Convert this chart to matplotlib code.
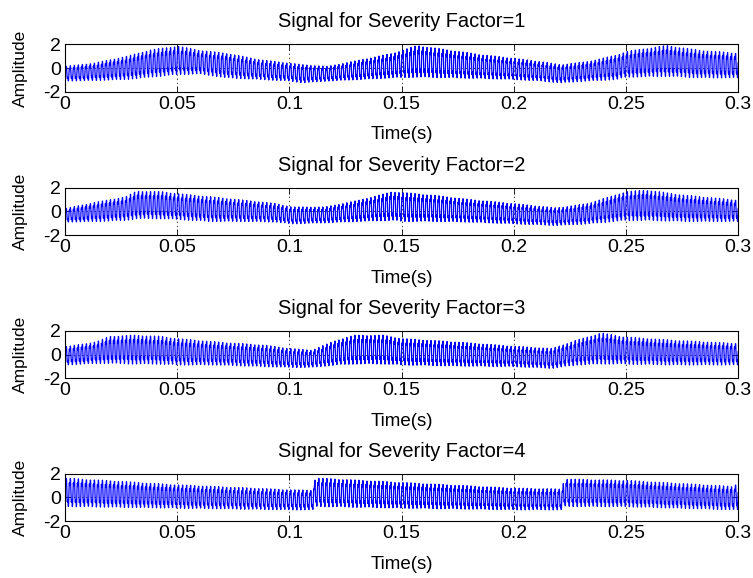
import numpy as np
import matplotlib
matplotlib.use("Agg")
import matplotlib.pyplot as plt

plt.rcParams["font.family"] = ["Liberation Sans", "DejaVu Sans"]
plt.rcParams["font.size"] = 13
plt.rcParams["axes.unicode_minus"] = False

# ── Signal description ─────────────────────────────────────────────────────────
FS = 10000          # sampling rate (Hz)
T_END = 0.3         # record length (s)
F_MESH = 560.0      # dominant carrier (Hz)
F_SIDE = 1680.0     # weaker high-frequency component (Hz)
SIDE_GAIN = 0.4

severity = [1, 2, 3, 4]

# upper / lower envelope of each record, sampled at the listed times
env_t_1 = [0.0, 0.013, 0.027, 0.038, 0.05, 0.06, 0.072, 0.087, 0.1, 0.106, 0.117,
           0.132, 0.146, 0.157, 0.172, 0.187, 0.2, 0.212, 0.221, 0.233, 0.246,
           0.25, 0.268, 0.283, 0.3]
env_hi_1 = [0.14, 0.42, 0.97, 1.53, 1.85, 1.5, 1.25, 0.7, 0.42, 0.28, 0.14,
            0.7, 1.25, 1.9, 1.5, 1.1, 0.83, 0.55, 0.28, 0.55, 1.1,
            1.4, 1.9, 1.5, 1.25]
env_lo_1 = [-1.1, -1.05, -0.97, -0.78, -0.55, -0.5, -0.83, -0.97, -1.1, -1.25, -1.1,
            -0.97, -0.83, -0.78, -0.83, -0.9, -0.97, -1.1, -1.25, -1.1, -0.97,
            -0.78, -0.7, -0.83, -0.83]

env_t_2 = [0.0, 0.013, 0.027, 0.032, 0.043, 0.05, 0.065, 0.08, 0.094, 0.101, 0.116,
           0.131, 0.146, 0.15, 0.164, 0.179, 0.2, 0.219, 0.233, 0.25, 0.259,
           0.276, 0.3]
env_hi_2 = [0.23, 0.74, 1.23, 1.71, 1.66, 1.5, 1.23, 0.94, 0.66, 0.37, 0.37,
            0.94, 1.66, 1.6, 1.37, 1.03, 0.66, 0.29, 0.66, 1.66, 1.8,
            1.37, 0.94]
env_lo_2 = [-0.91, -0.86, -0.77, -0.63, -0.63, -0.69, -0.86, -0.86, -0.91, -1.06, -0.97,
            -0.86, -0.77, -0.86, -0.86, -0.91, -1.06, -1.2, -1.06, -0.77, -0.77,
            -0.86, -0.86]

env_t_3 = [0.0, 0.014, 0.02, 0.031, 0.042, 0.05, 0.067, 0.089, 0.1, 0.11, 0.121,
           0.129, 0.142, 0.15, 0.174, 0.2, 0.217, 0.228, 0.239, 0.249, 0.271, 0.3]
env_hi_3 = [0.66, 1.08, 1.55, 1.64, 1.55, 1.36, 1.08, 0.8, 0.52, 0.38, 1.22,
            1.64, 1.64, 1.36, 1.08, 0.71, 0.52, 1.22, 1.83, 1.5, 1.22, 0.94]
env_lo_3 = [-0.88, -0.74, -0.74, -0.8, -0.8, -0.88, -0.88, -1.02, -1.08, -1.08, -0.88,
            -0.8, -0.8, -0.88, -0.97, -1.02, -1.16, -0.88, -0.8, -0.8, -0.88, -0.88]

env_t_4 = [0.0, 0.05, 0.1, 0.1105, 0.1115, 0.15, 0.2, 0.2215, 0.2225, 0.25, 0.298, 0.3]
env_hi_4 = [1.63, 1.06, 0.64, 0.6, 1.64, 1.26, 0.78, 0.7, 1.55, 1.43, 0.92, 1.3]
env_lo_4 = [-0.78, -0.92, -1.06, -1.06, -0.78, -0.92, -1.06, -1.06, -0.78, -0.8, -1.06, -1.06]

envelopes = [
    (env_t_1, env_hi_1, env_lo_1),
    (env_t_2, env_hi_2, env_lo_2),
    (env_t_3, env_hi_3, env_lo_3),
    (env_t_4, env_hi_4, env_lo_4),
]

x_ticks = [0, 0.05, 0.1, 0.15, 0.2, 0.25, 0.3]
x_tick_labels = ["0", "0.05", "0.1", "0.15", "0.2", "0.25", "0.3"]
y_ticks = [-2, 0, 2]


def build_signal(t, env_t, env_hi, env_lo):
    hi = np.interp(t, env_t, env_hi)
    lo = np.interp(t, env_t, env_lo)
    mid = 0.5 * (hi + lo)
    half = 0.5 * (hi - lo)
    carrier = (np.sin(2 * np.pi * F_MESH * t)
               + SIDE_GAIN * np.sin(2 * np.pi * F_SIDE * t + 0.7))
    carrier /= np.max(np.abs(carrier))
    return mid + half * carrier


t = np.arange(0, T_END + 1 / FS, 1 / FS)

fig = plt.figure(figsize=(7.53, 5.78), dpi=100)
left, width, height = 0.0863, 0.894, 0.082
bottoms = [0.8413, 0.5934, 0.3455, 0.0986]

for sf, (et, ehi, elo), b in zip(severity, envelopes, bottoms):
    ax = fig.add_axes([left, b, width, height])
    y = build_signal(t, et, ehi, elo)
    ax.plot(t, y, color="#0000ff", lw=0.9)
    ax.set_xlim(0, 0.3)
    ax.set_ylim(-2, 2)
    ax.set_xticks(x_ticks)
    ax.set_xticklabels(x_tick_labels)
    ax.set_yticks(y_ticks)
    ax.grid(True, color="k", linestyle=(0, (2, 4)), lw=0.5)
    ax.tick_params(direction="in", length=4, width=0.6, top=True, right=True,
                   pad=3, labelsize=14)
    for s in ax.spines.values():
        s.set_linewidth(0.8)
    ax.set_title(f"Signal for Severity Factor={sf}", fontsize=14.4,
                 y=1.477, va="center", pad=0)
    ax.set_xlabel("Time(s)", fontsize=13.5, va="center")
    ax.xaxis.set_label_coords(0.5, -0.91)
    ax.set_ylabel("Amplitude", fontsize=12.5, va="center")
    ax.yaxis.set_label_coords(-0.066, 0.5)

fig.savefig("out.png", dpi=100)
